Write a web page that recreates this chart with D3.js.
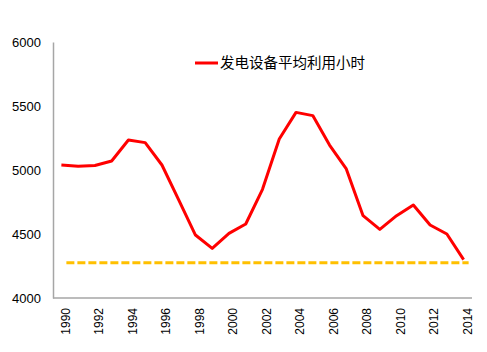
<!DOCTYPE html>
<html>
<head>
<meta charset="utf-8">
<script src="https://cdn.jsdelivr.net/npm/d3@7"></script>
<style>
  body { margin: 0; background: #fff; }
</style>
</head>
<body>
<div id="chart"></div>
<script>
var years = d3.range(1990, 2015);
var hours = [5040, 5030, 5035, 5070, 5234, 5214, 5039, 4766, 4492, 4388, 4505, 4578, 4849,
             5242, 5450, 5425, 5195, 5008, 4643, 4536, 4643, 4727, 4570, 4500, 4300];
var refLevel = years.map(function() { return 4276; });
var yTicks = [4000, 4500, 5000, 5500, 6000];
var xTicks = years.filter(function(y) { return y % 2 === 0; });
var legendLabel = "发电设备平均利用小时";

var margin = { top: 42, right: 15, bottom: 54, left: 53 },
  width = 487 - margin.left - margin.right,
  height = 352 - margin.top - margin.bottom;

var svg = d3.select("#chart")
  .append("svg")
  .attr("width", 487)
  .attr("height", 352)
  .append("g")
  .attr("transform", "translate(" + margin.left + "," + margin.top + ")");

var x = d3.scalePoint()
  .domain(years)
  .range([0, width])
  .padding(0.5);

var y = d3.scaleLinear()
  .domain([4000, 6000])
  .range([height, 0]);

// y axis
var yAxis = svg.append("g")
  .call(d3.axisLeft(y).tickValues(yTicks).tickSize(0).tickPadding(12).tickFormat(d3.format("d")));
yAxis.select(".domain").attr("stroke", "#a6a6a6").attr("stroke-width", 1.5);
yAxis.selectAll("text")
  .attr("font-family", "Liberation Sans, Arial, sans-serif")
  .attr("font-size", 13)
  .attr("fill", "#000");

// x axis
var xAxis = svg.append("g")
  .attr("transform", "translate(0," + height + ")")
  .call(d3.axisBottom(x).tickValues(xTicks).tickSize(0));
xAxis.select(".domain").attr("stroke", "#a6a6a6").attr("stroke-width", 1.5)
  .attr("d", "M0,0H" + width);
xAxis.selectAll("text")
  .attr("font-family", "Liberation Sans, Arial, sans-serif")
  .attr("font-size", 12)
  .attr("fill", "#000")
  .attr("text-anchor", "end")
  .attr("transform", "rotate(-90)")
  .attr("x", -10)
  .attr("y", 0)
  .attr("dy", "0.35em")
  .attr("dx", 0);
xAxis.selectAll(".tick").attr("transform", function(d) { return "translate(" + (x(d) + 4) + ",0)"; });

// dashed reference line
var line = d3.line()
  .x(function(d, i) { return x(years[i]); })
  .y(function(d) { return y(d); });

svg.append("path")
  .datum(refLevel)
  .attr("fill", "none")
  .attr("stroke", "#FFC000")
  .attr("stroke-width", 3)
  .attr("stroke-dasharray", "8,3")
  .attr("transform", "translate(5,0)")
  .attr("d", line);

svg.append("path")
  .datum(hours)
  .attr("fill", "none")
  .attr("stroke", "#FF0000")
  .attr("stroke-width", 3)
  .attr("stroke-linejoin", "round")
  .attr("d", line);

// legend
var legend = svg.append("g")
  .attr("transform", "translate(" + (195 - margin.left) + "," + (63 - margin.top) + ")");
legend.append("line")
  .attr("x1", 0).attr("x2", 23)
  .attr("stroke", "#FF0000")
  .attr("stroke-width", 3);
legend.append("text")
  .attr("x", 25)
  .attr("dy", "0.35em")
  .attr("font-family", "Noto Sans CJK SC, sans-serif")
  .attr("font-size", 14.5)
  .attr("fill", "#000")
  .text(legendLabel);
</script>
</body>
</html>
